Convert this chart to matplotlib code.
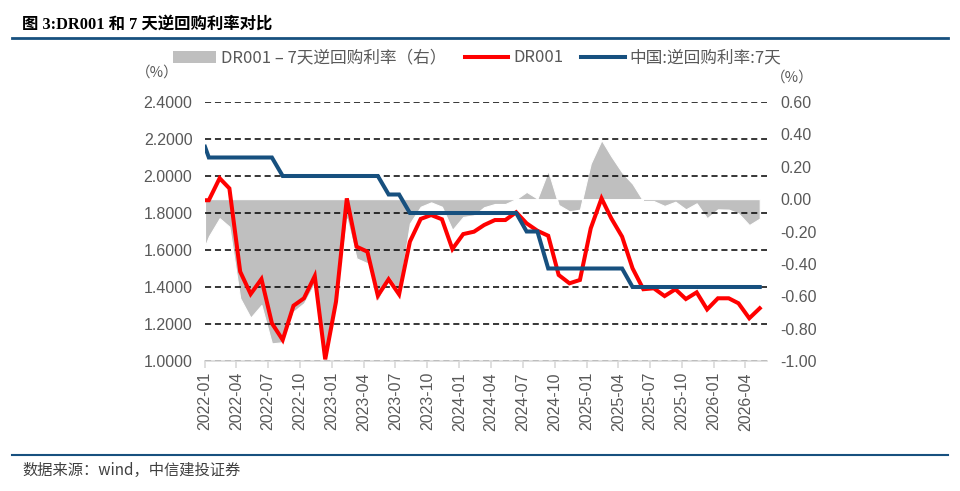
import numpy as np
import pandas as pd
import matplotlib
matplotlib.use("Agg")
import matplotlib.pyplot as plt
from matplotlib.patches import Patch
from matplotlib.lines import Line2D

plt.rcParams['font.family'] = ['Liberation Sans', 'Noto Sans CJK SC', 'DejaVu Sans']

# 数据: 第一个点为期初值, 之后为月度值 (2022-01 ~ 2026-05)
dates = pd.DatetimeIndex(['2022-01-01']).append(
    pd.date_range('2022-01-12', periods=53, freq=pd.DateOffset(months=1)))

dr001 = [1.869, 1.869, 1.988, 1.933, 1.483, 1.362, 1.443, 1.204, 1.114, 1.299,
         1.339, 1.459, 1.009, 1.321, 1.879, 1.618, 1.591, 1.353, 1.442, 1.360,
         1.645, 1.768, 1.789, 1.766, 1.605, 1.686, 1.699, 1.735, 1.762, 1.762,
         1.804, 1.744, 1.704, 1.677, 1.465, 1.420, 1.438, 1.717, 1.879, 1.771,
         1.672, 1.501, 1.388, 1.393, 1.351, 1.388, 1.335, 1.371, 1.279, 1.339,
         1.339, 1.312, 1.231, 1.285]

repo7d = [2.158, 2.10, 2.10, 2.10, 2.10, 2.10, 2.10, 2.10, 2.00, 2.00,
          2.00, 2.00, 2.00, 2.00, 2.00, 2.00, 2.00, 2.00, 1.90, 1.90,
          1.80, 1.80, 1.80, 1.80, 1.80, 1.80, 1.80, 1.80, 1.80, 1.80,
          1.80, 1.70, 1.70, 1.50, 1.50, 1.50, 1.50, 1.50, 1.50, 1.50,
          1.50, 1.40, 1.40, 1.40, 1.40, 1.40, 1.40, 1.40, 1.40, 1.40,
          1.40, 1.40, 1.40, 1.40]

spread = [-0.29, -0.23, -0.118, -0.170, -0.612, -0.732, -0.654, -0.891, -0.884, -0.695,
          -0.643, -0.52, -0.99, -0.68, -0.12, -0.366, -0.396, -0.633, -0.479, -0.572,
          -0.15, -0.047, -0.02, -0.047, -0.19, -0.11, -0.10, -0.05, -0.03, -0.03,
          0.0, 0.045, 0.003, 0.176, -0.036, -0.075, -0.065, 0.22, 0.365, 0.265,
          0.165, 0.095, -0.012, -0.012, -0.042, -0.016, -0.063, -0.026, -0.118, -0.063,
          -0.065, -0.088, -0.16, -0.12]

tick_dates = pd.date_range('2022-01-01', '2026-04-01', freq='3MS')
left_ticks = [1.0, 1.2, 1.4, 1.6, 1.8, 2.0, 2.2, 2.4]
right_ticks = [-1.0, -0.8, -0.6, -0.4, -0.2, 0.0, 0.2, 0.4, 0.6]

red = '#FF0000'
blue = '#17507F'
grey_fill = '#BFBFBF'
txt = '#595959'
cjk = ['Noto Sans CJK SC', 'DejaVu Sans']

fig = plt.figure(figsize=(9.6, 4.91), dpi=100)
ax = fig.add_axes([205 / 960, 1 - 361 / 491, 561.7 / 960, 259 / 491])
ax2 = ax.twinx()
ax.set_zorder(ax2.get_zorder() + 1)
ax.patch.set_visible(False)

# 右轴: 利差面积
ax2.fill_between(dates, 0, spread, color=grey_fill, edgecolor='white', linewidth=0.8)
ax2.set_ylim(-1.0, 0.6)
ax2.set_yticks(right_ticks)
ax2.set_yticklabels([f'{v:.2f}' for v in right_ticks])

# 左轴: DR001 和 7天逆回购
ax.plot(dates, dr001, color=red, lw=2.9, solid_joinstyle='miter', zorder=3)
ax.plot(dates, repo7d, color=blue, lw=2.9, solid_joinstyle='miter', zorder=4)
ax.set_ylim(1.0, 2.4)
ax.set_yticks(left_ticks)
ax.set_yticklabels([f'{v:.4f}' for v in left_ticks])
ax.set_xlim(pd.Timestamp('2022-01-01'), pd.Timestamp('2026-06-01'))
ax.set_xticks(tick_dates)
ax.set_xticklabels([d.strftime('%Y-%m') for d in tick_dates], rotation=90)

ax.grid(axis='y', color='black', linestyle=(0, (4, 2.5)), linewidth=1.1)
ax.set_axisbelow(True)
for a in (ax, ax2):
    for s in ('top', 'left', 'right'):
        a.spines[s].set_visible(False)
    a.spines['bottom'].set_color('#D9D9D9')
    a.spines['bottom'].set_linewidth(1.2)
ax2.spines['bottom'].set_visible(False)

ax.tick_params(axis='y', length=0, pad=9, labelsize=11.5, labelcolor=txt)
ax2.tick_params(axis='y', length=0, pad=10, labelsize=11.5, labelcolor=txt)
ax.tick_params(axis='x', length=5, color='#D9D9D9', width=1.2, pad=3,
               labelsize=11.5, labelcolor=txt)

fig.text(157 / 960, 1 - 73 / 491, '（%）', family=cjk, fontsize=10.5, color=txt,
         ha='center', va='center')
fig.text(792 / 960, 1 - 78 / 491, '（%）', family=cjk, fontsize=10.5, color=txt,
         ha='center', va='center')

handles = [Patch(facecolor=grey_fill, edgecolor='none'),
           Line2D([], [], color=red, lw=2.9),
           Line2D([], [], color=blue, lw=2.9)]
labels = ['DR001 – 7天逆回购利率（右）', 'DR001', '中国:逆回购利率:7天']
fig.legend(handles, labels, loc='center', bbox_to_anchor=(477 / 960, 1 - 58 / 491),
           ncol=3, frameon=False, handlelength=2.6, handletextpad=0.3,
           columnspacing=1.1, prop={'family': cjk, 'size': 12}, labelcolor=txt)

# 标题与来源
fig.text(22 / 960, 1 - 25 / 491, '图 3:DR001 和 7 天逆回购利率对比',
         family=['Liberation Serif', 'Noto Sans CJK SC'], weight='bold',
         fontsize=11.8, ha='left', va='center', color='black')
fig.add_artist(Line2D([12 / 960, 948 / 960], [1 - 38 / 491] * 2, color=blue, lw=2))
fig.add_artist(Line2D([12 / 960, 948 / 960], [1 - 455 / 491] * 2, color=blue, lw=1.5))
fig.text(22 / 960, 1 - 470 / 491, '数据来源：wind，中信建投证券', family=cjk,
         fontsize=11, ha='left', va='center', color='#404040', style='italic')

fig.savefig('out.png', dpi=100)
